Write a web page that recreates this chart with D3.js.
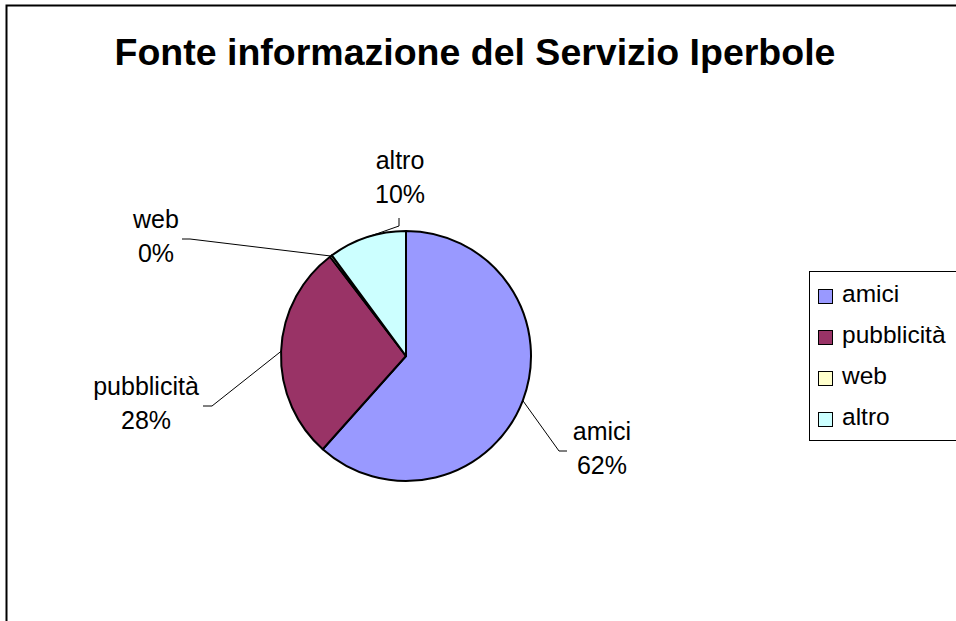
<!DOCTYPE html>
<html>
<head>
<meta charset="utf-8">
<script src="https://cdn.jsdelivr.net/npm/d3@7"></script>
<style>
  body { margin: 0; background: #fff; }
  text { font-family: "Liberation Sans", Arial, sans-serif; fill: #000; }
</style>
</head>
<body>
<svg width="956" height="621"></svg>
<script>
const categories = ['amici', 'pubblicità', 'web', 'altro'];
const values     = [61.6, 28.0, 0.3, 10.1];
const pctLabels  = ['62%', '28%', '0%', '10%'];
const colors     = ['#9999FF', '#993366', '#FFFFCC', '#CCFFFF'];

const svg = d3.select('svg');
const width  = +svg.attr('width');
const height = +svg.attr('height');

// chart frame (right/bottom edges are off-canvas)
svg.append('rect')
  .attr('x', 6.5).attr('y', 5.5)
  .attr('width', 1000).attr('height', 1000)
  .attr('fill', '#fff').attr('stroke', '#000').attr('stroke-width', 2);

svg.append('text')
  .attr('x', 475).attr('y', 65)
  .attr('text-anchor', 'middle')
  .style('font-size', '37.5px').style('font-weight', 'bold')
  .text('Fonte informazione del Servizio Iperbole');

const cx = 406, cy = 356, r = 125;
const data = categories.map((c, i) => ({ name: c, value: values[i], pct: pctLabels[i], color: colors[i] }));

const pie = d3.pie().value(d => d.value).sort(null);
const arc = d3.arc().innerRadius(0).outerRadius(r);
const arcs = pie(data);

const g = svg.append('g').attr('transform', `translate(${cx},${cy})`);

g.selectAll('path.slice')
  .data(arcs)
  .enter().append('path')
  .attr('class', 'slice')
  .attr('d', arc)
  .attr('fill', d => d.data.color)
  .attr('stroke', '#000')
  .attr('stroke-width', 2)
  .attr('stroke-linejoin', 'round');

// label positions (relative to pie center) and leader elbows
const labelPos = {
  'amici':      { x: 196,  y: 84,   elbow: [[161, 95], [153, 95]] },
  'pubblicità': { x: -260, y: 39,   elbow: [[-203, 50], [-194, 50]] },
  'web':        { x: -250, y: -128, elbow: [[-224, -117], [-216, -117]] },
  'altro':      { x: -6,   y: -187, elbow: [[-7, -138], [-7, -130]] }
};

arcs.forEach(d => {
  const lp = labelPos[d.data.name];
  const mid = (d.startAngle + d.endAngle) / 2;
  const edge = [Math.sin(mid) * r, -Math.cos(mid) * r];
  g.append('path')
    .attr('d', d3.line()([lp.elbow[0], lp.elbow[1], edge]))
    .attr('fill', 'none')
    .attr('stroke', '#000')
    .attr('stroke-width', 1);
  const t = g.append('text')
    .attr('text-anchor', 'middle')
    .style('font-size', '25px');
  t.append('tspan').attr('x', lp.x).attr('y', lp.y).text(d.data.name);
  t.append('tspan').attr('x', lp.x).attr('y', lp.y + 34).text(d.data.pct);
});

// legend
const legend = svg.append('g').attr('transform', 'translate(809,271)');
legend.append('rect')
  .attr('x', 0.5).attr('y', 0.5)
  .attr('width', 200).attr('height', 169)
  .attr('fill', '#fff').attr('stroke', '#000').attr('stroke-width', 1);

const rows = legend.selectAll('g.row')
  .data(data)
  .enter().append('g')
  .attr('class', 'row')
  .attr('transform', (d, i) => `translate(9,${25 + i * 41})`);

rows.append('rect')
  .attr('x', 0.5).attr('y', -6.5)
  .attr('width', 14).attr('height', 14)
  .attr('fill', d => d.color)
  .attr('stroke', '#000').attr('stroke-width', 1);

rows.append('text')
  .attr('x', 24).attr('y', 6)
  .style('font-size', '24.5px')
  .text(d => d.name);
</script>
</body>
</html>
